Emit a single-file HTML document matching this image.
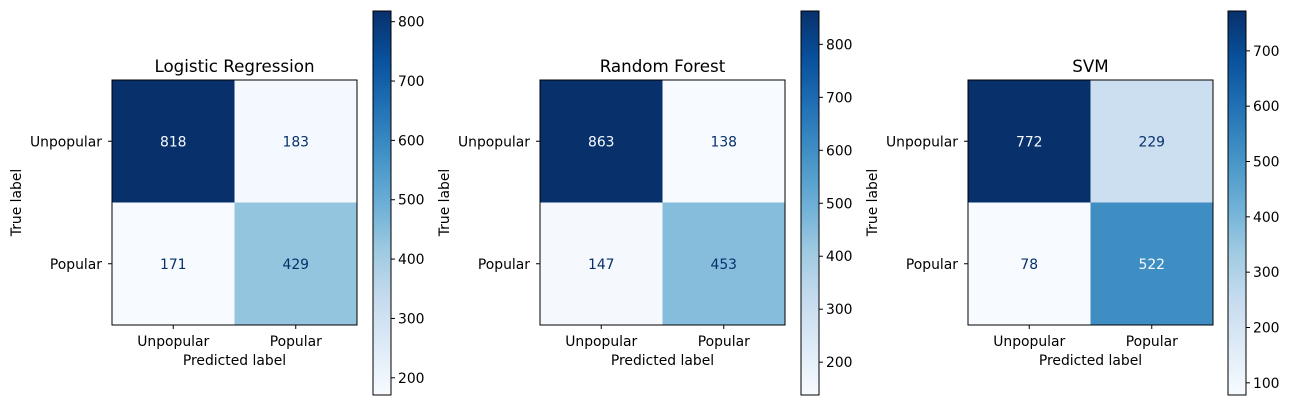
<!DOCTYPE html>
<html><head><meta charset="utf-8"><style>
body{margin:0;background:#fff;}
svg text{font-family:"DejaVu Sans","Liberation Sans",sans-serif;font-size:13.9px;fill:#000;}
</style></head><body>
<svg id="fig" width="1293" height="405" xmlns="http://www.w3.org/2000/svg"></svg>
<script>
const titles = ["Logistic Regression", "Random Forest", "SVM"];
const classLabels = ["Unpopular", "Popular"];
const lrValues = [[818, 183], [171, 429]];
const rfValues = [[863, 138], [147, 453]];
const svmValues = [[772, 229], [78, 522]];
const lrTicks = [200, 300, 400, 500, 600, 700, 800];
const rfTicks = [200, 300, 400, 500, 600, 700, 800];
const svmTicks = [100, 200, 300, 400, 500, 600, 700];

const panels = [
  {ax: 112, cb: 373, vals: lrValues, ticks: lrTicks},
  {ax: 540, cb: 801, vals: rfValues, ticks: rfTicks},
  {ax: 968, cb: 1228, vals: svmValues, ticks: svmTicks}
];
const AY = 80, AS = 245, CBY = 11, CBH = 384, CBW = 18;
const stops = ["#f7fbff","#deebf7","#c6dbef","#9ecae1","#6baed6","#4292c6","#2171b5","#08519c","#08306b"];
function hex(h){return [1,3,5].map(i=>parseInt(h.substr(i,2),16));}
function blues(t){
  t=Math.max(0,Math.min(1,t));
  const p=t*8, i=Math.min(7,Math.floor(p)), f=p-i;
  const a=hex(stops[i]), b=hex(stops[i+1]);
  return "rgb("+a.map((v,k)=>Math.round(v+(b[k]-v)*f)).join(",")+")";
}
const NS="http://www.w3.org/2000/svg";
const svg=document.getElementById("fig");
function mk(tag, attrs, parent){
  const e=document.createElementNS(NS,tag);
  for(const k in attrs) e.setAttribute(k,attrs[k]);
  (parent||svg).appendChild(e); return e;
}
let gid=0;
panels.forEach((p,pi)=>{
  const flat=p.vals.flat();
  const mn=Math.min(...flat), mx=Math.max(...flat);
  const norm=v=>(v-mn)/(mx-mn);
  const g=mk("g",{});
  
  
  const cw=AS/2;
  p.vals.forEach((row,r)=>row.forEach((v,c)=>{
    const rect=mk("rect",{x:p.ax+c*cw,y:AY+r*cw,width:cw,height:cw,fill:blues(norm(v))},g);
    
    
    const t=mk("text",{x:p.ax+c*cw+cw/2,y:AY+r*cw+cw/2+5,"text-anchor":"middle",style:"fill:"+(norm(v)>0.5?"#f7fbff":"#08306b")},g);
    t.textContent=v;
    
    
  }));
  mk("rect",{x:p.ax,y:AY,width:AS,height:AS,fill:"none",stroke:"#000","stroke-width":1},g);
  classLabels.forEach((lab,i)=>{
    const cx=p.ax+i*cw+cw/2, cy=AY+i*cw+cw/2;
    mk("line",{x1:cx,y1:AY+AS,x2:cx,y2:AY+AS+4,stroke:"#000"},g);
    const tx=mk("text",{x:cx,y:AY+AS+21,"text-anchor":"middle"},g);
    tx.textContent=lab;
    
    
    mk("line",{x1:p.ax-4,y1:cy,x2:p.ax,y2:cy,stroke:"#000"},g);
    const ty=mk("text",{x:p.ax-10,y:cy+5,"text-anchor":"end"},g);
    ty.textContent=lab;
    
    
  });
  const tt=mk("text",{x:p.ax+AS/2,y:AY-8,"text-anchor":"middle",style:"font-size:16.7px"},g);
  tt.textContent=titles[pi];
  
  
  const xl=mk("text",{x:p.ax+AS/2,y:AY+AS+40,"text-anchor":"middle"},g);
  xl.textContent="Predicted label";
  
  
  const yx=p.ax-91, yy=AY+AS/2;
  const yl=mk("text",{x:yx,y:yy,"text-anchor":"middle",transform:"rotate(-90 "+yx+" "+yy+")"},g);
  yl.textContent="True label";
  
  
  const id="grad"+(gid++);
  const defs=mk("defs",{},g);
  const lg=mk("linearGradient",{id:id,x1:0,y1:1,x2:0,y2:0},defs);
  stops.forEach((s,i)=>mk("stop",{offset:i/8,"stop-color":s},lg));
  const cb=mk("rect",{x:p.cb,y:CBY,width:CBW,height:CBH,fill:"url(#"+id+")",stroke:"#000"},g);
  
  
  p.ticks.forEach(tv=>{
    const y=CBY+CBH*(1-norm(tv));
    mk("line",{x1:p.cb+CBW,y1:y,x2:p.cb+CBW+4,y2:y,stroke:"#000"},g);
    const t=mk("text",{x:p.cb+CBW+7,y:y+5},g);
    t.textContent=tv;
    
    
  });
});
</script>
</body></html>
